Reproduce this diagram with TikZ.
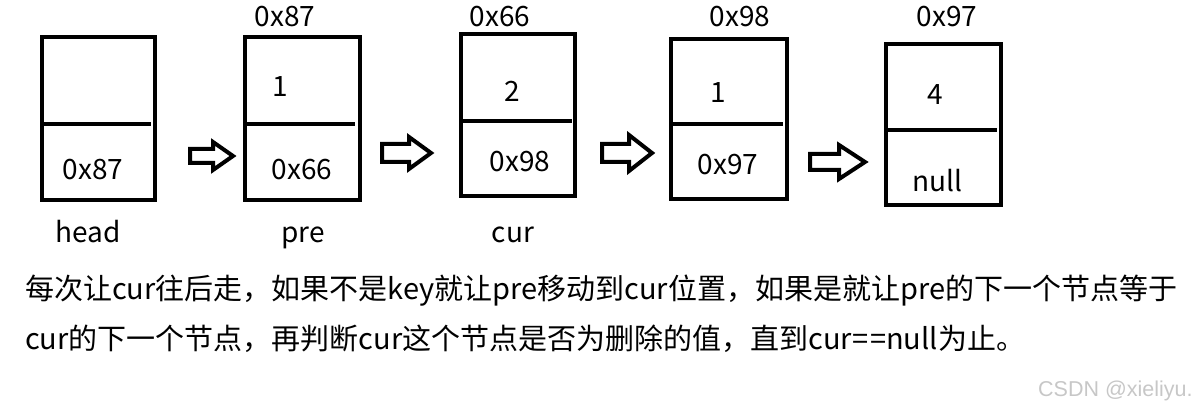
\documentclass[tikz,border=0pt]{standalone}
\usepackage{fontspec}
\setmainfont{Noto Sans CJK SC}
\newfontfamily\wmfont{Liberation Sans}
\begin{document}
\begin{tikzpicture}[x=1pt,y=-1pt,
  cell/.style={draw=black,line width=4pt,rectangle,inner sep=0pt,outer sep=0pt},
  divider/.style={draw=black,line width=4pt},
  barrow/.style={draw=black,line width=4pt,line join=miter,fill=white},
  lbl/.style={anchor=base,inner sep=0pt,font=\fontsize{28}{32}\selectfont},
  para/.style={anchor=base west,inner sep=0pt,font=\fontsize{29}{33}\selectfont},
  wm/.style={anchor=base west,inner sep=0pt,text=black!22,font=\wmfont\fontsize{21.5}{24}\selectfont}]
\useasboundingbox (0,0) rectangle (1200,411);
% boxes
\node[cell,minimum width=113pt,minimum height=163pt] (b1) at (98.5,118.5) {};
\node[cell,minimum width=115pt,minimum height=163pt] (b2) at (302.5,118.5) {};
\node[cell,minimum width=114pt,minimum height=162pt] (b3) at (518,115) {};
\node[cell,minimum width=116pt,minimum height=160pt] (b4) at (729,119) {};
\node[cell,minimum width=115pt,minimum height=161pt] (b5) at (943.5,124.5) {};
% dividers
\draw[divider] (b1.west |- 0,124) -- (151,124);
\draw[divider] (b2.west |- 0,124) -- (355,124);
\draw[divider] (b3.west |- 0,121) -- (572,121);
\draw[divider] (b4.west |- 0,124) -- (783,124);
\draw[divider] (b5.west |- 0,130) -- (997,130);
% block arrows
\coordinate (a1) at (190,156);
\coordinate (a2) at (382,153);
\coordinate (a3) at (602,153);
\coordinate (a4) at (810,162);
\draw[barrow] (a1) ++(0,-7) -- ++(23,0) -- ++(0,-7) -- ++(20,14) -- ++(-20,14) -- ++(0,-7) -- ++(-23,0) -- cycle;
\draw[barrow] (a2) ++(0,-9) -- ++(27,0) -- ++(0,-7) -- ++(22,16) -- ++(-22,16) -- ++(0,-7) -- ++(-27,0) -- cycle;
\draw[barrow] (a3) ++(0,-9) -- ++(27,0) -- ++(0,-9) -- ++(23,18) -- ++(-23,18) -- ++(0,-9) -- ++(-27,0) -- cycle;
\draw[barrow] (a4) ++(0,-8) -- ++(29,0) -- ++(0,-9) -- ++(26,17) -- ++(-26,17) -- ++(0,-9) -- ++(-29,0) -- cycle;
% labels in boxes
\node[lbl] (t1) at (93,180) {0x87};
\node[lbl] (h1) at (88,243) {head};
\node[lbl] (ad2) at (285,27) {0x87};
\node[lbl] (v2) at (280,97) {1};
\node[lbl] (t2) at (302,180) {0x66};
\node[lbl] (h2) at (303,243) {pre};
\node[lbl] (ad3) at (500,27) {0x66};
\node[lbl] (v3) at (512,102) {2};
\node[lbl] (t3) at (520,172) {0x98};
\node[lbl] (h3) at (513,243) {cur};
\node[lbl] (ad4) at (740,27) {0x98};
\node[lbl] (v4) at (718,103) {1};
\node[lbl] (t4) at (728,175) {0x97};
\node[lbl] (ad5) at (947,27) {0x97};
\node[lbl] (v5) at (935,105) {4};
\node[lbl] (t5) at (937,192) {null};
% paragraph
\node[para] (p1) at (25,300) {每次让cur往后走，如果不是key就让pre移动到cur位置，如果是就让pre的下一个节点等于};
\node[para] (p2) at (25,350) {cur的下一个节点，再判断cur这个节点是否为删除的值，直到cur=\kern2pt=null为止。};
\node[wm] (w) at (1038,397) {CSDN @xieliyu.};
\end{tikzpicture}
\end{document}
